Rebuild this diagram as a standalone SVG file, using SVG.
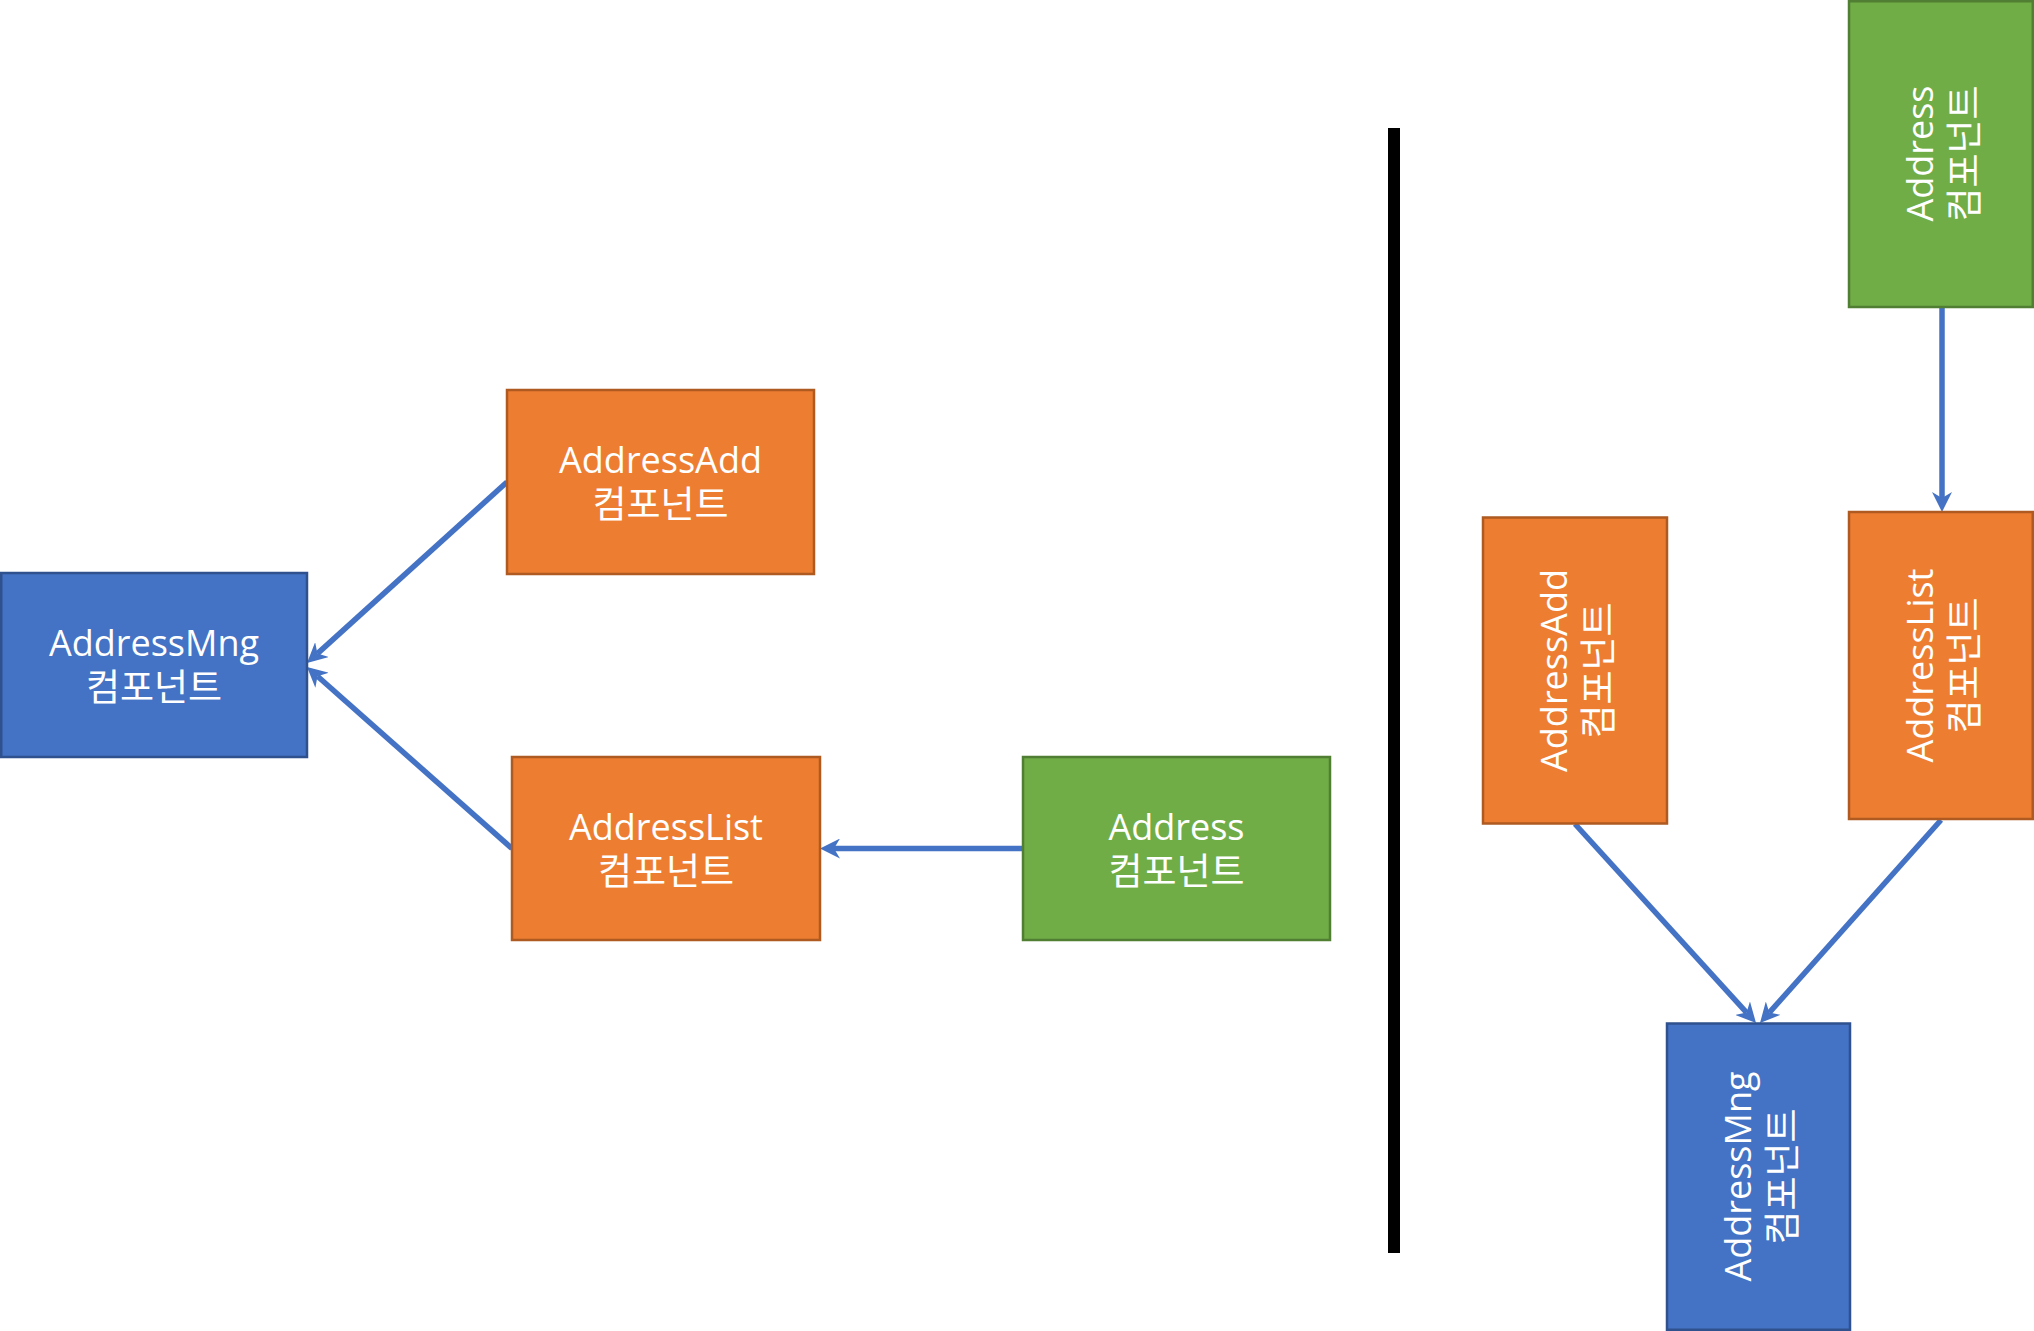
<svg xmlns="http://www.w3.org/2000/svg" width="2034" height="1331" viewBox="0 0 2034 1331">
<style>
.blue{fill:#4472C4;stroke:#2F528F;stroke-width:2.5}
.orange{fill:#ED7D31;stroke:#AE5A21;stroke-width:2.5}
.green{fill:#70AD47;stroke:#507E32;stroke-width:2.5}
.lbl{font-family:"Open Sans","Noto Sans CJK KR",sans-serif;font-size:36px;fill:#FFFFFF;text-anchor:middle}
.ko{font-size:37px}
.conn{stroke:#4472C4;stroke-width:5.5;fill:none;marker-end:url(#arrow)}
</style>
<defs>
<marker id="arrow" markerUnits="userSpaceOnUse" viewBox="0 0 20 20" markerWidth="20" markerHeight="20" refX="6" refY="10" orient="auto">
<path d="M0,0 L20,10 L0,20 L6,10 z" fill="#4472C4"/>
</marker>
</defs>
<rect id="divider" x="1388" y="128" width="12" height="1125" fill="#000000"/>
<g id="connectors">
<line class="conn" x1="507" y1="482" x2="317.4" y2="653.6"/>
<line class="conn" x1="512" y1="848.5" x2="317.5" y2="676.3"/>
<line class="conn" x1="1023" y1="848.5" x2="834" y2="848.5"/>
<line class="conn" x1="1942" y1="307" x2="1942" y2="498"/>
<line class="conn" x1="1575" y1="824" x2="1746.6" y2="1012.6"/>
<line class="conn" x1="1941" y1="820" x2="1769.3" y2="1012.6"/>
</g>
<g id="left-addressmng">
<rect class="blue" x="1.25" y="573" width="305.75" height="184"/>
<text class="lbl"><tspan x="154" y="656">AddressMng</tspan><tspan class="ko" x="154" y="701">컴포넌트</tspan></text>
</g>
<g id="left-addressadd">
<rect class="orange" x="507" y="390" width="307" height="184"/>
<text class="lbl"><tspan x="660.5" y="473">AddressAdd</tspan><tspan class="ko" x="660.5" y="518">컴포넌트</tspan></text>
</g>
<g id="left-addresslist">
<rect class="orange" x="512" y="757" width="308" height="183"/>
<text class="lbl"><tspan x="666" y="839.5">AddressList</tspan><tspan class="ko" x="666" y="884.5">컴포넌트</tspan></text>
</g>
<g id="left-address">
<rect class="green" x="1023" y="757" width="307" height="183"/>
<text class="lbl"><tspan x="1176.5" y="839.5">Address</tspan><tspan class="ko" x="1176.5" y="884.5">컴포넌트</tspan></text>
</g>
<g id="right-address">
<rect class="green" x="1849" y="1.25" width="183.75" height="305.75"/>
<text class="lbl" transform="rotate(-90 1941 153.5)"><tspan x="1941" y="145.5">Address</tspan><tspan class="ko" x="1941" y="190.5">컴포넌트</tspan></text>
</g>
<g id="right-addressadd">
<rect class="orange" x="1483" y="517.5" width="184" height="306"/>
<text class="lbl" transform="rotate(-90 1575 670.5)"><tspan x="1575" y="662.5">AddressAdd</tspan><tspan class="ko" x="1575" y="707.5">컴포넌트</tspan></text>
</g>
<g id="right-addresslist">
<rect class="orange" x="1849" y="512" width="183.75" height="307"/>
<text class="lbl" transform="rotate(-90 1941 665.5)"><tspan x="1941" y="657.5">AddressList</tspan><tspan class="ko" x="1941" y="702.5">컴포넌트</tspan></text>
</g>
<g id="right-addressmng">
<rect class="blue" x="1667" y="1023.5" width="183" height="306.25"/>
<text class="lbl" transform="rotate(-90 1758.5 1176.5)"><tspan x="1758.5" y="1168.5">AddressMng</tspan><tspan class="ko" x="1758.5" y="1213.5">컴포넌트</tspan></text>
</g>
</svg>
